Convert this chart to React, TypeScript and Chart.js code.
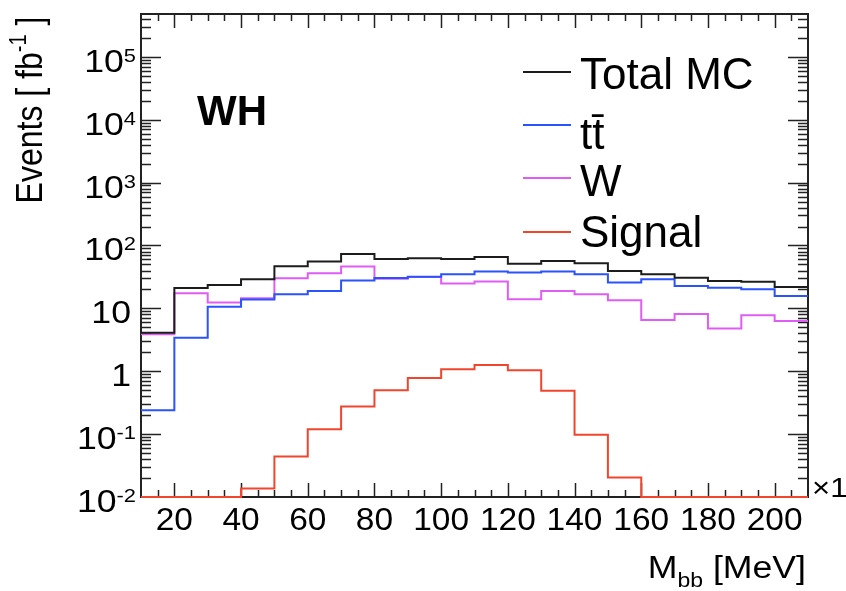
import React, { useEffect, useRef } from 'react';
import { Chart, registerables } from 'chart.js';

Chart.register(...registerables);

// ---------------- data ----------------
const binEdges = [10, 20, 30, 40, 50, 60, 70, 80, 90, 100, 110, 120, 130, 140, 150, 160, 170, 180, 190, 200, 210];
const totalMC = [4.1, 21, 23.5, 29, 46.7, 55.5, 73, 61, 62.6, 61, 65.6, 51, 56.7, 52, 39.3, 34.8, 30.8, 27.3, 26.6, 21.9];
const ttbar = [0.24, 3.4, 10.6, 13.8, 16.8, 18.9, 27.7, 30.5, 31.9, 34.9, 38.5, 37.1, 38.5, 34.8, 25.7, 29, 22.7, 21.3, 20.1, 15.7];
const wjets = [3.86, 17.4, 12.4, 14.5, 30, 36.1, 46.2, 29.7, 31.6, 24.8, 26.7, 14, 18.9, 16.8, 13.5, 6.5, 8.1, 4.8, 7.8, 6.3];
const signal = [0.01, 0.01, 0.01, 0.0137, 0.044, 0.12, 0.275, 0.5, 0.78, 1.08, 1.26, 1.04, 0.49, 0.098, 0.0204, 0.01, 0.01, 0.01, 0.01, 0.01];

const seriesLabels = ['Total MC', 't' + 't\u0304', 'W', 'Signal'];
const seriesColors = ['#1c1c1c', '#2a52ff', '#e05cf6', '#f2452e'];
const xTickLabels = [20, 40, 60, 80, 100, 120, 140, 160, 180, 200];
const yDecades = [-2, -1, 0, 1, 2, 3, 4, 5];
const xAxisMin = 10;
const xAxisMax = 210;
const yAxisMin = 0.01;
const yAxisMax = 4.8e5;
const titleText = 'WH';
const yTitleParts = ['Events [ fb', '-1', ' ]'];
const xTitleParts = ['M', 'bb', ' [MeV]'];
const multiplierText = '\u00d71';

// ---------------- helpers ----------------
const FONT = '"Liberation Sans", Arial, Helvetica, sans-serif';
const AX_STRETCH = 1.15;
const XL_STRETCH = 1.08;

function toSteps(values: number[]) {
  const pts = values.map((v, i) => ({ x: binEdges[i], y: v }));
  pts.push({ x: binEdges[values.length], y: values[values.length - 1] });
  return pts;
}

function stretchedText(ctx: CanvasRenderingContext2D, s: string, x: number, y: number, sx: number) {
  ctx.save();
  ctx.translate(x, y);
  ctx.scale(sx, 1);
  ctx.textAlign = 'left';
  ctx.fillText(s, 0, 0);
  ctx.restore();
}

const rootStylePlugin = {
  id: 'rootStyle',
  beforeDatasetsDraw(chart: any) {
    const { ctx, chartArea: a, scales } = chart;
    const x = scales.x;
    const y = scales.y;
    ctx.save();
    ctx.strokeStyle = '#222';
    ctx.lineWidth = 1.5;
    ctx.beginPath();
    for (let v = xAxisMin + 5; v < xAxisMax; v += 5) {
      const px = Math.round(x.getPixelForValue(v)) + 0.5;
      const len = v % 20 === 0 ? 14 : 7;
      ctx.moveTo(px, a.bottom);
      ctx.lineTo(px, a.bottom - len);
      ctx.moveTo(px, a.top);
      ctx.lineTo(px, a.top + len);
    }
    for (let k = -2; k <= 5; k++) {
      for (let m = 1; m <= 9; m++) {
        const v = m * Math.pow(10, k);
        if (v <= yAxisMin || v > yAxisMax) continue;
        const py = Math.round(y.getPixelForValue(v)) + 0.5;
        const len = m === 1 ? 20 : 10;
        ctx.moveTo(a.left, py);
        ctx.lineTo(a.left + len, py);
        ctx.moveTo(a.right, py);
        ctx.lineTo(a.right - len, py);
      }
    }
    ctx.stroke();
    ctx.lineWidth = 2;
    ctx.strokeRect(a.left, a.top, a.right - a.left, a.bottom - a.top);
    ctx.restore();
  },
  afterDraw(chart: any) {
    const { ctx, chartArea: a, scales } = chart;
    const x = scales.x;
    const y = scales.y;
    ctx.save();
    ctx.fillStyle = '#000';
    ctx.textBaseline = 'alphabetic';

    // x tick labels
    ctx.font = `31px ${FONT}`;
    for (const v of xTickLabels) {
      const s = String(v);
      const w = ctx.measureText(s).width * XL_STRETCH;
      stretchedText(ctx, s, x.getPixelForValue(v) - w / 2, a.bottom + 33, XL_STRETCH);
    }

    // y tick labels
    for (const k of yDecades) {
      const py = y.getPixelForValue(Math.pow(10, k));
      const base = py + 15;
      if (k === 0 || k === 1) {
        ctx.font = `31px ${FONT}`;
        const s = k === 0 ? '1' : '10';
        const w = ctx.measureText(s).width * AX_STRETCH;
        stretchedText(ctx, s, 131 - w, base, AX_STRETCH);
      } else {
        ctx.font = `31px ${FONT}`;
        const w10 = ctx.measureText('10').width * AX_STRETCH;
        ctx.font = `19px ${FONT}`;
        const sup = String(k);
        const ws = ctx.measureText(sup).width * AX_STRETCH;
        const start = 136 - ws - w10;
        ctx.font = `31px ${FONT}`;
        stretchedText(ctx, '10', start, base, AX_STRETCH);
        ctx.font = `19px ${FONT}`;
        stretchedText(ctx, sup, start + w10, base - 10, AX_STRETCH);
      }
    }

    // multiplier
    ctx.font = `27px ${FONT}`;
    stretchedText(ctx, multiplierText, a.right + 4, a.bottom, AX_STRETCH);

    // x title
    ctx.font = `31px ${FONT}`;
    const wM = ctx.measureText(xTitleParts[0]).width * AX_STRETCH;
    const wU = ctx.measureText(xTitleParts[2]).width * AX_STRETCH;
    ctx.font = `20px ${FONT}`;
    const wB = ctx.measureText(xTitleParts[1]).width * AX_STRETCH;
    const xs = a.right - 2 - (wM + wB + wU);
    ctx.font = `31px ${FONT}`;
    stretchedText(ctx, xTitleParts[0], xs, 578, AX_STRETCH);
    ctx.font = `20px ${FONT}`;
    stretchedText(ctx, xTitleParts[1], xs + wM, 587, AX_STRETCH);
    ctx.font = `31px ${FONT}`;
    stretchedText(ctx, xTitleParts[2], xs + wM + wB, 578, AX_STRETCH);

    // y title (rotated)
    ctx.font = `32px ${FONT}`;
    const w1 = ctx.measureText(yTitleParts[0]).width;
    const w3 = ctx.measureText(yTitleParts[2]).width;
    ctx.font = `20px ${FONT}`;
    const w2 = ctx.measureText(yTitleParts[1]).width;
    const total = w1 + w2 + w3;
    ctx.save();
    ctx.translate(42, 110 + total / 2);
    ctx.rotate(-Math.PI / 2);
    ctx.scale(1, AX_STRETCH);
    ctx.textAlign = 'left';
    ctx.font = `32px ${FONT}`;
    ctx.fillText(yTitleParts[0], 0, 0);
    ctx.font = `20px ${FONT}`;
    ctx.fillText(yTitleParts[1], w1, -14);
    ctx.font = `32px ${FONT}`;
    ctx.fillText(yTitleParts[2], w1 + w2, 0);
    ctx.restore();

    // WH label
    ctx.font = `bold 42px ${FONT}`;
    ctx.textAlign = 'left';
    ctx.fillText(titleText, 197, 125);

    // legend
    const rows = [72, 125, 178, 232];
    const baselines = [89, 149, 196, 247];
    ctx.font = `44px ${FONT}`;
    for (let i = 0; i < seriesLabels.length; i++) {
      ctx.strokeStyle = seriesColors[i];
      ctx.lineWidth = 2;
      ctx.beginPath();
      ctx.moveTo(523, rows[i]);
      ctx.lineTo(571, rows[i]);
      ctx.stroke();
      ctx.fillStyle = '#000';
      ctx.fillText(seriesLabels[i], 580, baselines[i]);
    }
    ctx.restore();
  },
};

export default function App() {
  const ref = useRef<HTMLCanvasElement>(null);

  useEffect(() => {
    const canvas = ref.current;
    if (!canvas) return;
    const seriesData = [totalMC, ttbar, wjets, signal];
    const chart = new Chart(canvas, {
      type: 'line',
      data: {
        datasets: seriesData.map((vals, i) => ({
          label: seriesLabels[i],
          data: toSteps(vals),
          borderColor: seriesColors[i],
          backgroundColor: seriesColors[i],
          borderWidth: 2,
          pointRadius: 0,
          stepped: true,
          fill: false,
          clip: 3,
          order: i + 1,
        })),
      },
      options: {
        responsive: false,
        animation: false,
        layout: { padding: { left: 0, top: 14, right: 38, bottom: 0 } },
        plugins: {
          legend: { display: false },
          tooltip: { enabled: false },
        },
        scales: {
          x: {
            type: 'linear',
            min: xAxisMin,
            max: xAxisMax,
            grid: { display: false },
            border: { display: false },
            ticks: { display: false },
            afterFit: (s: any) => {
              s.height = 94;
            },
          },
          y: {
            type: 'logarithmic',
            min: yAxisMin,
            max: yAxisMax,
            grid: { display: false },
            border: { display: false },
            ticks: { display: false },
            afterFit: (s: any) => {
              s.width = 141;
            },
          },
        },
      } as any,
      plugins: [rootStylePlugin],
    });
    return () => chart.destroy();
  }, []);

  return (
    <div style={{ position: 'absolute', left: 0, top: 0, width: 846, height: 591, background: '#fff' }}>
      <canvas ref={ref} width={846} height={591} style={{ display: 'block', width: 846, height: 591 }} />
    </div>
  );
}
